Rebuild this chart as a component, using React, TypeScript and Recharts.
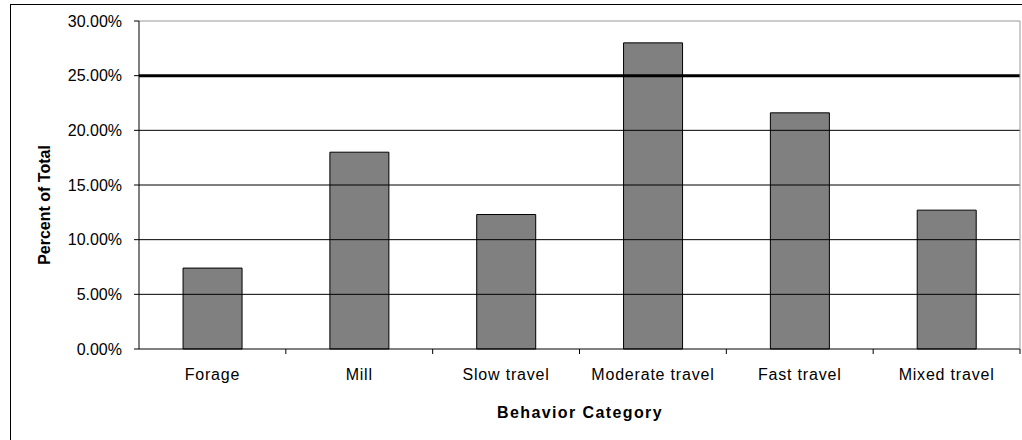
import React from 'react';
import { BarChart, Bar, XAxis, YAxis, ReferenceLine } from 'recharts';

const categories = ['Forage', 'Mill', 'Slow travel', 'Moderate travel', 'Fast travel', 'Mixed travel'];
const percents = [7.4, 18.0, 12.3, 28.0, 21.6, 12.7];
const yTicks = [0, 5, 10, 15, 20, 25, 30];
const gridValues = [5, 10, 15, 20];

const data = categories.map((name, i) => ({ name, value: percents[i] }));

const font = 'Arial, "Liberation Sans", sans-serif';
const TICK_SIZE = 6;
const TICK_MARGIN = 14;

// category labels plus the small boundary ticks between categories
const CategoryTick = (props: any) => {
  const { x, y, payload, index, visibleTicksCount } = props;
  const half = payload && typeof payload.offset === 'number' ? payload.offset : 0;
  const axisY = y - TICK_SIZE - TICK_MARGIN;
  const last = index === visibleTicksCount - 1;
  return (
    <g>
      {index > 0 && half > 0 && (
        <line x1={x - half} x2={x - half} y1={axisY} y2={axisY + 5} stroke="#000" />
      )}
      {last && half > 0 && (
        <>
          <line x1={x + half} x2={x + half} y1={axisY} y2={axisY + 5} stroke="#000" />
          <line x1={x + half} x2={x + half} y1={axisY} y2={axisY - 328} stroke="#999" />
        </>
      )}
      <text x={x} y={y} dy="0.71em" textAnchor="middle" fill="#000" fontSize={16} fontFamily={font} letterSpacing={0.8}>
        {payload.value}
      </text>
    </g>
  );
};

export default function App() {
  return (
    <div style={{ position: 'fixed', left: 0, top: 0, width: 1022, height: 440, overflow: 'hidden', background: '#fff' }}>
      <div style={{ position: 'absolute', left: 10, top: 4, width: 1040, height: 460, borderLeft: '1px solid #000', borderTop: '1px solid #000', fontFamily: font }}>
        <BarChart
          width={1030}
          height={436}
          data={data}
          margin={{ top: 16, right: 21, left: 0, bottom: 32 }}
          barCategoryGap="30%"
        >
          <XAxis
            dataKey="name"
            tickLine={false}
            tickSize={TICK_SIZE}
            tickMargin={TICK_MARGIN}
            axisLine={{ stroke: '#000' }}
            tick={<CategoryTick />}
            height={60}
            interval={0}
            label={{
              content: () => (
                <text x={569} y={407} textAnchor="middle" dominantBaseline="central" fill="#000" fontSize={16} fontWeight="bold" fontFamily={font} letterSpacing={1.4}>
                  Behavior Category
                </text>
              ),
            }}
          />
          <YAxis
            domain={[0, 30]}
            ticks={yTicks}
            width={128}
            tickFormatter={(v: number) => v.toFixed(2) + '%'}
            tick={{ fill: '#000', fontSize: 16, fontFamily: font }}
            tickSize={5}
            tickMargin={12}
            tickLine={{ stroke: '#000' }}
            axisLine={{ stroke: '#000' }}
            label={{
              content: () => (
                <text x={33} y={200} transform="rotate(-90 33 200)" textAnchor="middle" dominantBaseline="central" fill="#000" fontSize={16} fontWeight="bold" fontFamily={font} letterSpacing={0}>
                  Percent of Total
                </text>
              ),
            }}
          />
          {gridValues.map(v => (
            <ReferenceLine key={v} y={v} stroke="#000" strokeWidth={1} />
          ))}
          <ReferenceLine y={30} stroke="#999" strokeWidth={1} />
          <ReferenceLine y={25} stroke="#000" strokeWidth={3} />
          <Bar dataKey="value" fill="#808080" stroke="#000" strokeWidth={1} isAnimationActive={false} />
        </BarChart>
      </div>
    </div>
  );
}
